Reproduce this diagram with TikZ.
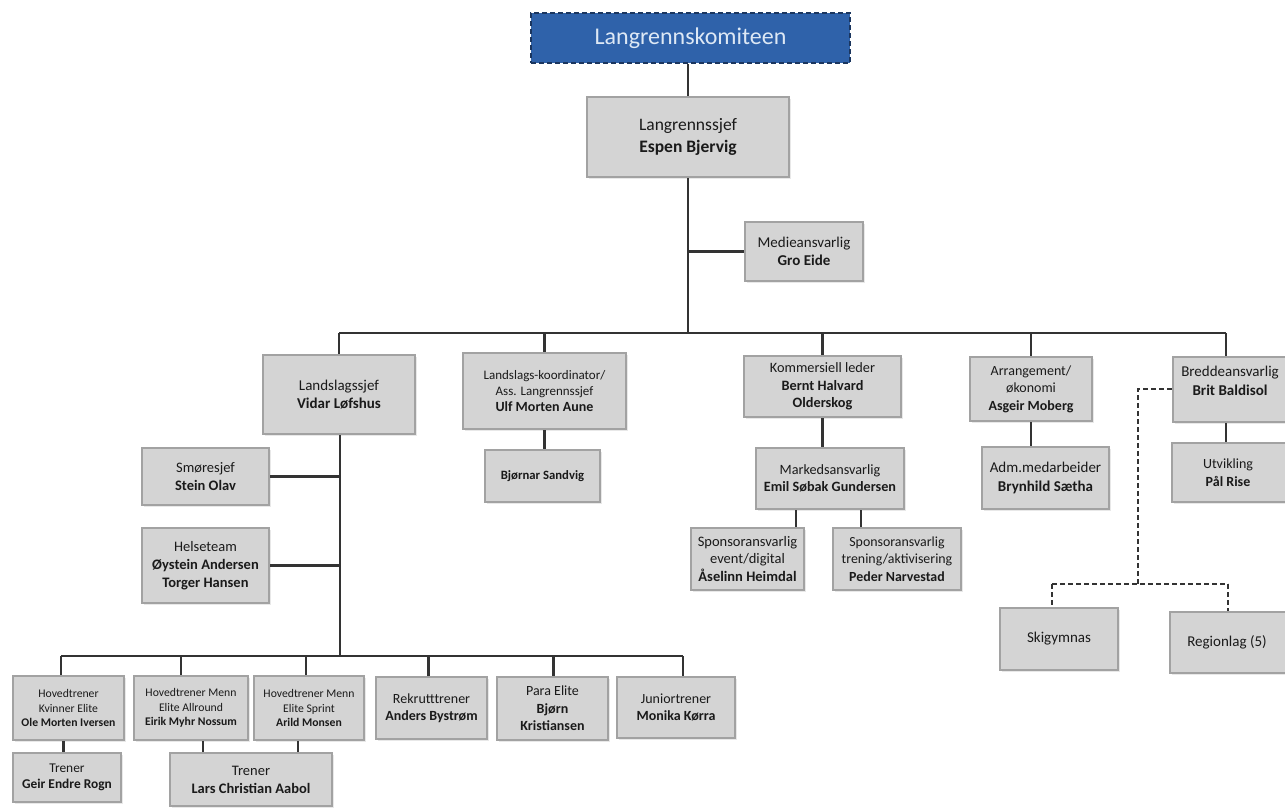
\documentclass[tikz,border=0pt]{standalone}
\usepackage{fontspec}
\setmainfont{Carlito}
\usetikzlibrary{shadows}
\definecolor{boxgray}{HTML}{D4D4D4}
\definecolor{bordergray}{HTML}{A2A2A2}
\definecolor{linegray}{HTML}{333333}
\definecolor{topblue}{HTML}{2F62AA}
\definecolor{topborder}{HTML}{1B365F}
\definecolor{toptext}{HTML}{DDE8F5}
\definecolor{txt}{HTML}{1A1A1A}
\newdimen\fsd
\newcommand{\fs}[1]{\fsd=#1pt \fsd=1.24\fsd \fontsize{#1}{\the\fsd}\selectfont}
\tikzset{
  box/.style={draw=bordergray, fill=boxgray, line width=2.2pt, inner sep=1pt, align=center,
    text=txt, drop shadow={opacity=0.18, shadow xshift=1.5pt, shadow yshift=-1.5pt}},
  f/.style={font=\fs{#1}},
  conn/.style={draw=linegray, line width=2.4pt},
  dconn/.style={draw=linegray, line width=2.4pt, dash pattern=on 5pt off 3pt},
}
\begin{document}
\begin{tikzpicture}[x=1pt,y=-1pt]
\useasboundingbox (0,0) rectangle (1285,807);
\clip (0,0) rectangle (1285,807);
% nodes
\node[draw=topborder, fill=topblue, line width=2pt, dash pattern=on 5pt off 3pt, text=toptext, f=24,
  minimum width=319pt, minimum height=50pt] (kom) at (690.5,38) {Langrennskomiteen};
\node[box, f=17.5, minimum width=202pt, minimum height=80pt] (sjef) at (688,137) {Langrennssjef\\\textbf{Espen Bjervig}};
\node[box, f=15, minimum width=118pt, minimum height=59pt] (medie) at (804,251.5) {Medieansvarlig\\\textbf{Gro Eide}};
\node[box, f=15, minimum width=152pt, minimum height=79pt] (lsj) at (339,394.5) {Landslagssjef\\\textbf{Vidar Løfshus}};
\node[box, f=13, minimum width=163pt, minimum height=76pt] (koord) at (544.5,391) {Landslags-koordinator/\\Ass. Langrennssjef\\\textbf{\fontsize{14}{17}\selectfont Ulf Morten Aune}};
\node[box, f=12.7, minimum width=115pt, minimum height=52pt] (bjornar) at (542.5,476) {\textbf{Bjørnar Sandvig}};
\node[box, f=14.3, minimum width=157pt, minimum height=61pt] (komm) at (822.5,386.5) {Kommersiell leder\\\textbf{Bernt Halvard}\\\textbf{Olderskog}};
\node[box, f=14.2, minimum width=148pt, minimum height=61pt] (marked) at (830,478.5) {Markedsansvarlig\\\textbf{Emil Søbak Gundersen}};
\node[box, f=14.5, minimum width=113pt, minimum height=62pt] (sp1) at (747.5,559) {Sponsoransvarlig\\event/digital\\\textbf{Åselinn Heimdal}};
\node[box, f=13.9, minimum width=128pt, minimum height=62pt] (sp2) at (897,559) {Sponsoransvarlig\\trening/aktivisering\\\textbf{Peder Narvestad}};
\node[box, f=14, minimum width=122pt, minimum height=64pt] (arr) at (1031,389) {Arrangement/\\økonomi\\\textbf{Asgeir Moberg}};
\node[box, f=15, minimum width=127pt, minimum height=62pt] (adm) at (1045.5,478) {Adm.medarbeider\\\textbf{Brynhild Sætha}};
\node[box, minimum width=124pt, minimum height=65pt,
  label={[anchor=north, yshift=-7pt, xshift=-5pt, align=center, text=txt, f=15]north:{Breddeansvarlig\\\textbf{Brit Baldisol}}}] (bredd) at (1235,389.5) {};
\node[box, minimum width=124pt, minimum height=59pt,
  label={[anchor=center, xshift=-6pt, align=center, text=txt, f=14]center:{Utvikling\\\textbf{Pål Rise}}}] (utv) at (1234,472.5) {};
\node[box, f=15, minimum width=118pt, minimum height=62pt] (ski) at (1059,639) {Skigymnas};
\node[box, minimum width=124pt, minimum height=61pt,
  label={[anchor=center, xshift=-5pt, align=center, text=txt, f=15]center:{Regionlag (5)}}] (reg) at (1232,642.5) {};
\node[box, f=14.5, minimum width=127pt, minimum height=57pt] (smor) at (205.5,476.5) {Smøresjef\\\textbf{Stein Olav}};
\node[box, f=14.5, minimum width=127pt, minimum height=75pt] (helse) at (205.5,565.5) {Helseteam\\\textbf{Øystein Andersen}\\\textbf{Torger Hansen}};
\node[box, f=11.7, minimum width=111pt, minimum height=64pt] (hk) at (68.5,708) {Hovedtrener\\Kvinner Elite\\\textbf{Ole Morten Iversen}};
\node[box, f=11.7, minimum width=114pt, minimum height=64pt] (ha) at (191,708) {Hovedtrener Menn\\Elite Allround\\\textbf{Eirik Myhr Nossum}};
\node[box, f=11.7, minimum width=110pt, minimum height=64pt] (hs) at (309,708) {Hovedtrener Menn\\Elite Sprint\\\textbf{Arild Monsen}};
\node[box, f=14, minimum width=111pt, minimum height=62pt] (rek) at (431.5,708) {Rekrutttrener\\\textbf{Anders Bystrøm}};
\node[box, f=14, minimum width=111pt, minimum height=63pt] (para) at (552.5,708.5) {Para Elite\\\textbf{Bjørn}\\\textbf{Kristiansen}};
\node[box, f=14, minimum width=118pt, minimum height=61pt] (jun) at (676,707.5) {Juniortrener\\\textbf{Monika Kørra}};
\node[box, f=13.4, minimum width=108pt, minimum height=49pt] (geir) at (67,777.5) {Trener\\\textbf{Geir Endre Rogn}};
\node[box, f=14.5, minimum width=162pt, minimum height=53pt] (lars) at (251,779.5) {Trener\\\textbf{Lars Christian Aabol}};
% coordinates
\coordinate (topbar) at (688,333);
\coordinate (barL) at (339,333);
\coordinate (barR) at (1226,333);
\coordinate (botbar) at (340,656);
\coordinate (botL) at (61,656);
\coordinate (botR) at (683,656);
\coordinate (dcorner) at (1138,389);
\coordinate (dbar) at (1138,584);
\coordinate (dL) at (1052,584);
\coordinate (dR) at (1228,584);
% connectors
\draw[conn] (kom.south -| sjef.north) -- (sjef.north);
\draw[conn] (sjef.south) -- (topbar);
\draw[conn] (sjef.south |- medie.west) -- (medie.west);
\draw[conn] (barL) -- (barR);
\draw[conn] (lsj.north |- barL) -- (lsj.north);
\draw[conn] (koord.north |- barL) -- (koord.north);
\draw[conn] (komm.north |- barL) -- (komm.north);
\draw[conn] (arr.north |- barL) -- (arr.north);
\draw[conn] (barR) -- (barR |- bredd.north);
\draw[conn] (koord.south) -- (koord.south |- bjornar.north);
\draw[conn] (komm.south) -- (komm.south |- marked.north);
\draw[conn] (marked.south -| sp1.north east) ++(-9pt,0) coordinate (m1) -- (m1 |- sp1.north);
\draw[conn] (marked.south -| sp2.north west) ++(29pt,0) coordinate (m2) -- (m2 |- sp2.north);
\draw[conn] (arr.south) -- (arr.south |- adm.north);
\draw[conn] (barR |- bredd.south) -- (barR |- utv.north);
\draw[conn] ([xshift=1pt]lsj.south) -- (botbar);
\draw[conn] (botbar |- smor.east) -- (smor.east);
\draw[conn] (botbar |- helse.east) -- (helse.east);
\draw[conn] (botL) -- (botR);
\draw[conn] (botL) -- (botL |- hk.north);
\draw[conn] (botL -| ha.north) ++(-10pt,0) coordinate (b2) -- (b2 |- ha.north);
\draw[conn] (botL -| hs.north) ++(-3pt,0) coordinate (b3) -- (b3 |- hs.north);
\draw[conn] (botL -| rek.north) ++(-3pt,0) coordinate (b4) -- (b4 |- rek.north);
\draw[conn] (botL -| para.north) ++(1pt,0) coordinate (b5) -- (b5 |- para.north);
\draw[conn] (botR) -- (botR |- jun.north);
\draw[conn] ([xshift=-5pt]hk.south) -- ([xshift=-5pt]hk.south |- geir.north);
\draw[conn] ([xshift=12pt]ha.south) -- ([xshift=12pt]ha.south |- lars.north);
\draw[conn] ([xshift=-11pt]hs.south) -- ([xshift=-11pt]hs.south |- lars.north);
\draw[dconn] (bredd.west |- dcorner) -- (dcorner) -- (dbar);
\draw[dconn] (dL) -- (dR);
\draw[dconn] (dL) -- (dL |- ski.north);
\draw[dconn] (dR) -- (dR |- reg.north);
\end{tikzpicture}
\end{document}
